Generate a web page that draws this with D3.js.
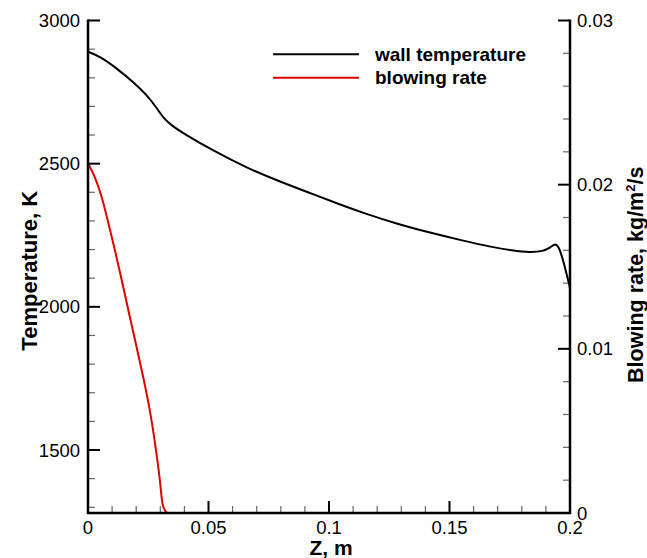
<!DOCTYPE html>
<html><head><meta charset="utf-8">
<script src="https://cdn.jsdelivr.net/npm/d3@7"></script>
<style>
body{margin:0;background:#fff;}
text{font-family:"Liberation Sans",Arial,Helvetica,sans-serif;}
</style></head>
<body><svg id="c" width="647" height="558"></svg>
<script>
// Wall temperature (K) vs Z (m)
const tempZ = [0, 0.005, 0.0119, 0.0187, 0.0244, 0.0285, 0.0315, 0.0345, 0.0395, 0.052, 0.0659, 0.0797, 0.0935, 0.1046, 0.1142, 0.1281, 0.1419, 0.1557, 0.1668, 0.1763, 0.1834, 0.1889, 0.1918, 0.1935, 0.1951, 0.1972, 0.2];
const tempT = [2891, 2874, 2833, 2786, 2740, 2695, 2657, 2635, 2606, 2545, 2485, 2437, 2393, 2357, 2328, 2290, 2259, 2231, 2210, 2196, 2190, 2194, 2207, 2219, 2217, 2163, 2066];
// Blowing rate (kg/m^2/s) vs Z (m)
const blowZ = [0, 0.0029, 0.0057, 0.0084, 0.0112, 0.014, 0.0174, 0.0202, 0.0229, 0.0257, 0.0278, 0.0299, 0.0306, 0.0312, 0.0327];
const blowR = [0.0213, 0.0205, 0.0193, 0.0177, 0.0160, 0.0142, 0.0119, 0.0101, 0.0083, 0.0063, 0.0043, 0.0020, 0.0008, 0.0003, 0];
const xTicks = [0, 0.05, 0.1, 0.15, 0.2];
const xTickLabels = ["0", "0.05", "0.1", "0.15", "0.2"];
const tTicks = [1500, 2000, 2500, 3000];
const rTicks = [0, 0.01, 0.02, 0.03];
const rTickLabels = ["0", "0.01", "0.02", "0.03"];
const seriesNames = ["wall temperature", "blowing rate"];
const seriesColors = ["#000000", "#e00000"];

const svg = d3.select("#c");
const L = 88, R = 570, T = 20.5, B = 513;
const x = d3.scaleLinear().domain([0, 0.2]).range([L, R]);
const yT = d3.scaleLinear().domain([1280, 3000]).range([B, T]);
const yR = d3.scaleLinear().domain([0, 0.03]).range([B, T]);

const tickFont = "18.5px";
const xMinor = d3.range(0, 0.2001, 0.01).filter(v => !xTicks.some(t => Math.abs(t - v) < 1e-9));
const tMinor = d3.range(1300, 3001, 100).filter(v => v % 500 !== 0);
const rMinor = d3.range(0, 0.03001, 0.002).filter(v => !rTicks.some(t => Math.abs(t - v) < 1e-9));

const g = svg.append("g");
g.selectAll(".xm").data(xMinor).enter().append("line")
  .attr("x1", d => x(d)).attr("x2", d => x(d)).attr("y1", B).attr("y2", B - 7)
  .attr("stroke", "#666").attr("stroke-width", 1.2);
g.selectAll(".tm").data(tMinor).enter().append("line")
  .attr("x1", L).attr("x2", L + 7).attr("y1", d => yT(d)).attr("y2", d => yT(d))
  .attr("stroke", "#666").attr("stroke-width", 1.2);
g.selectAll(".rm").data(rMinor).enter().append("line")
  .attr("x1", R).attr("x2", R - 7).attr("y1", d => yR(d)).attr("y2", d => yR(d))
  .attr("stroke", "#666").attr("stroke-width", 1.2);

// curves
const lineT = d3.line().x((d, i) => x(tempZ[i])).y(d => yT(d)).curve(d3.curveBasis);
svg.append("path").datum(tempT).attr("d", lineT).attr("fill", "none")
  .attr("stroke", seriesColors[0]).attr("stroke-width", 2);
const lineR = d3.line().x((d, i) => x(blowZ[i])).y(d => yR(d)).curve(d3.curveBasis);
svg.append("path").datum(blowR).attr("d", lineR).attr("fill", "none")
  .attr("stroke", seriesColors[1]).attr("stroke-width", 2);

// major ticks
g.selectAll(".xM").data(xTicks).enter().append("line")
  .attr("x1", d => x(d)).attr("x2", d => x(d)).attr("y1", B).attr("y2", B - 12)
  .attr("stroke", "#000").attr("stroke-width", 2);
g.selectAll(".tM").data(tTicks).enter().append("line")
  .attr("x1", L).attr("x2", L + 12).attr("y1", d => yT(d)).attr("y2", d => yT(d))
  .attr("stroke", "#000").attr("stroke-width", 2);
g.selectAll(".rM").data(rTicks).enter().append("line")
  .attr("x1", R).attr("x2", R - 12).attr("y1", d => yR(d)).attr("y2", d => yR(d))
  .attr("stroke", "#000").attr("stroke-width", 2);

// axis lines
svg.append("line").attr("x1", L).attr("x2", L).attr("y1", T - 1).attr("y2", B + 1).attr("stroke", "#000").attr("stroke-width", 2.5);
svg.append("line").attr("x1", R).attr("x2", R).attr("y1", T - 1).attr("y2", B + 1).attr("stroke", "#000").attr("stroke-width", 2.5);
svg.append("line").attr("x1", L - 1).attr("x2", R + 1).attr("y1", B).attr("y2", B).attr("stroke", "#000").attr("stroke-width", 2.5);

// tick labels
svg.selectAll(".xl").data(xTicks).enter().append("text")
  .attr("x", d => x(d)).attr("y", 534).attr("text-anchor", "middle")
  .style("font-size", tickFont).text((d, i) => xTickLabels[i]);
svg.selectAll(".tl").data(tTicks).enter().append("text")
  .attr("x", 80).attr("y", d => yT(d) + 6.5).attr("text-anchor", "end")
  .style("font-size", tickFont).text(d => d);
svg.selectAll(".rl").data(rTicks).enter().append("text")
  .attr("x", 577).attr("y", d => yR(d) + 6.5).attr("text-anchor", "start")
  .style("font-size", tickFont).text((d, i) => rTickLabels[i]);

// axis titles
svg.append("text").attr("transform", `translate(37,${(T + B) / 2 + 4}) rotate(-90)`)
  .attr("text-anchor", "middle").style("font-size", "22px").style("font-weight", "bold")
  .text("Temperature, K");
svg.append("text").attr("x", 331).attr("y", 555).attr("text-anchor", "middle")
  .style("font-size", "21px").style("font-weight", "bold").text("Z, m");
const rt = svg.append("text").attr("transform", `translate(643,${(T + B) / 2 + 8}) rotate(-90)`)
  .attr("text-anchor", "middle").style("font-size", "21.5px").style("font-weight", "bold");
rt.append("tspan").text("Blowing rate, kg/m");
rt.append("tspan").attr("dy", -8).style("font-size", "13px").text("2");
rt.append("tspan").attr("dy", 8).text("/s");

// legend
const leg = svg.append("g");
seriesNames.forEach((n, i) => {
  const yy = 54.3 + i * 23.5;
  leg.append("line").attr("x1", 273).attr("x2", 359).attr("y1", yy).attr("y2", yy)
    .attr("stroke", seriesColors[i]).attr("stroke-width", 2);
  leg.append("text").attr("x", 375).attr("y", yy + 6.5).style("font-size", "19px")
    .style("font-weight", "bold").text(n);
});
</script></body></html>
